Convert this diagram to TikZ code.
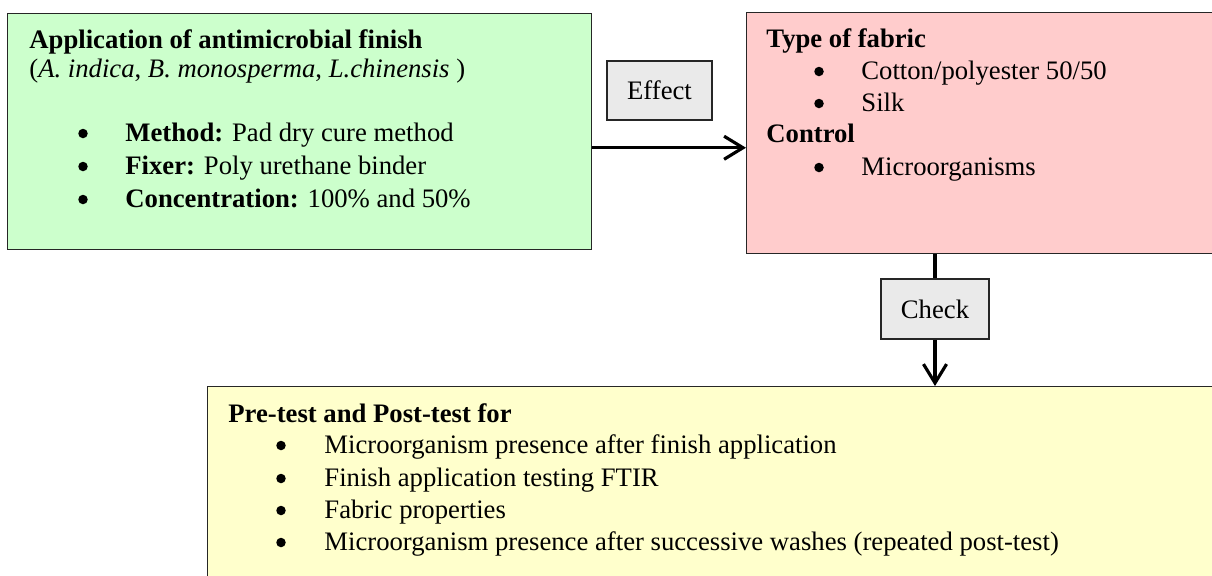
\documentclass[tikz,border=0pt]{standalone}
\usepackage{fontspec}
\setmainfont{Liberation Serif}
\usepackage{tikz}
\usetikzlibrary{arrows.meta, positioning, calc}
\definecolor{mintgreen}{RGB}{204, 255, 204}
\definecolor{blushpink}{RGB}{255, 204, 204}
\definecolor{paleyellow}{RGB}{255, 255, 204}
\definecolor{taggray}{RGB}{234, 234, 234}
\def\pxu{0.476pt}

\begin{document}
\begin{tikzpicture}[x=0.476pt, y=-0.476pt,
    every node/.append style={font=\fontsize{12.7}{15}\selectfont},
    box/.style={draw=black!85, line width=0.7pt, anchor=north west, inner sep=0pt},
    tag/.style={draw=black!85, line width=0.7pt, fill=taggray, inner sep=0pt},
    txt/.style={anchor=base west, inner sep=0pt},
    dot/.style={circle, fill=black, inner sep=0pt, minimum size=9.5*\pxu},
    link/.style={line width=1.5pt, -{Straight Barb[length=9pt, width=11pt]}}]
  \useasboundingbox (0,0) rectangle (1212,575);
  \clip (0,0) rectangle (1212,575);

  % ---- Boxes ----
  \node[box, fill=mintgreen, minimum width=584*\pxu, minimum height=236*\pxu] (finish) at (7,13) {};
  \node[box, fill=blushpink, minimum width=480*\pxu, minimum height=241*\pxu] (fabric) at (746,12) {};
  \node[box, fill=paleyellow, minimum width=1030*\pxu, minimum height=220*\pxu] (tests) at (207,386) {};

  % ---- Labels on the links ----
  \node[tag, minimum width=105*\pxu, minimum height=59*\pxu] (effect) at (659.5,90.5) {Effect};
  \node[tag, minimum width=108*\pxu, minimum height=60*\pxu] (check) at (935,309) {Check};

  % ---- Links ----
  \coordinate (effectout) at ([yshift=-16*\pxu]finish.east);
  \draw[link] (effectout) -- (effectout -| fabric.west);
  \draw[line width=1.5pt] (check |- fabric.south) -- (check.north);
  \draw[link] (check.south) -- (check |- tests.north);

  % ---- Finish ----
  \node[txt] (finishhead) at (29,48) {\textbf{Application of antimicrobial finish}};
  \node[txt] (species) at (29,77) {(\textit{A. indica}, \textit{B. monosperma}, \textit{L.chinensis} )};
  \foreach \y/\k/\v in {141/Method:/Pad dry cure method,
                        174/Fixer:/Poly urethane binder,
                        207/Concentration:/100\% and 50\%} {
    \node[dot] (finishdot\y) at (83,\y-7.5) {};
    \node[txt] (finishitem\y) at (125,\y) {\textbf{\k} \v};
  }

  % ---- Fabric ----
  \node[txt] (fabrichead) at (766,47) {\textbf{Type of fabric}};
  \node[dot] (cottondot) at (819,71.5) {};
  \node[txt] (cottonitem) at (861,79) {Cotton/polyester 50/50};
  \node[dot] (silkdot) at (819,103.5) {};
  \node[txt] (silkitem) at (861,111) {Silk};
  \node[txt] (controlhead) at (766,142) {\textbf{Control}};
  \node[dot] (controldot) at (819,167.5) {};
  \node[txt] (controlitem) at (861,175) {Microorganisms};

  % ---- Tests ----
  \node[txt] (testshead) at (228,422) {\textbf{Pre-test and Post-test for}};
  \foreach \y/\v in {453/Microorganism presence after finish application,
                     486/Finish application testing FTIR,
                     518/Fabric properties,
                     550/Microorganism presence after successive washes (repeated post-test)} {
    \node[dot] (testsdot\y) at (281,\y-7.5) {};
    \node[txt] (testsitem\y) at (324,\y) {\v};
  }
\end{tikzpicture}
\end{document}
